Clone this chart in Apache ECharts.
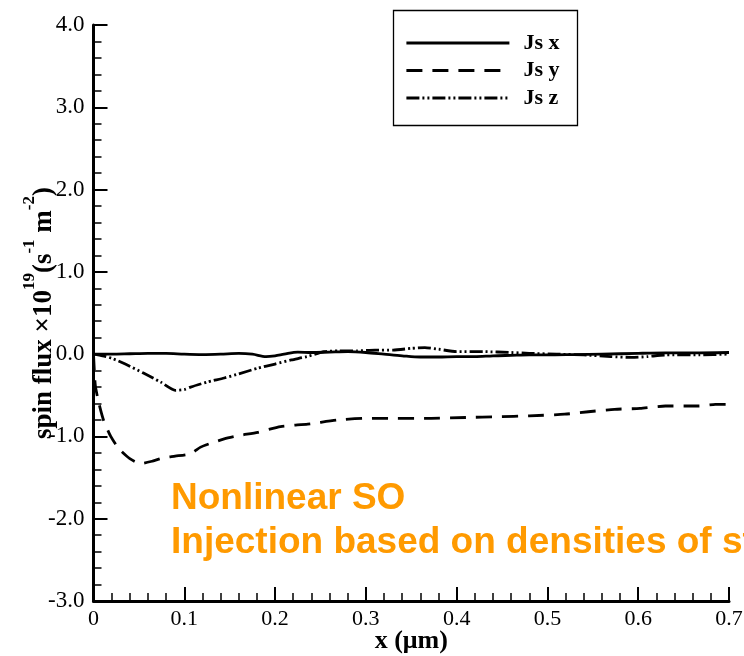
<!DOCTYPE html>
<html>
<head>
<meta charset="utf-8">
<script src="https://cdn.jsdelivr.net/npm/echarts@6/dist/echarts.min.js"></script>
<style>
  html, body { margin: 0; padding: 0; background: #fff; }
  #chart { width: 744px; height: 656px; }
</style>
</head>
<body>
<div id="chart"></div>
<script>
// Spin flux components along x (units of 1e19 s^-1 m^-2)
const xJsx = [0, 0.02, 0.04, 0.06, 0.08, 0.1, 0.12, 0.14, 0.16, 0.175, 0.19, 0.2, 0.21, 0.225, 0.24, 0.26, 0.28, 0.3, 0.32, 0.34, 0.36, 0.38, 0.4, 0.42, 0.44, 0.46, 0.48, 0.5, 0.53, 0.56, 0.6, 0.63, 0.66, 0.7];
const yJsx = [0, 0.0, 0.005, 0.01, 0.01, 0.0, -0.005, 0.0, 0.01, 0.0, -0.03, -0.02, 0.0, 0.025, 0.02, 0.025, 0.03, 0.02, 0.0, -0.02, -0.035, -0.035, -0.03, -0.03, -0.02, -0.015, -0.01, -0.01, -0.005, 0.0, 0.01, 0.015, 0.015, 0.02];

const xJsy = [0, 0.002, 0.006, 0.011, 0.019, 0.028, 0.04, 0.052, 0.065, 0.077, 0.09, 0.107, 0.118, 0.13, 0.144, 0.16, 0.181, 0.206, 0.236, 0.269, 0.3, 0.33, 0.372, 0.41, 0.446, 0.48, 0.519, 0.545, 0.574, 0.602, 0.63, 0.667, 0.685, 0.7];
const yJsy = [0, -0.38, -0.6, -0.8, -1.0, -1.15, -1.27, -1.33, -1.3, -1.26, -1.24, -1.21, -1.13, -1.08, -1.03, -0.99, -0.95, -0.88, -0.85, -0.8, -0.78, -0.78, -0.78, -0.77, -0.76, -0.75, -0.73, -0.7, -0.67, -0.66, -0.63, -0.63, -0.61, -0.61];

const xJsz = [0, 0.01, 0.02, 0.035, 0.055, 0.074, 0.09, 0.1, 0.107, 0.125, 0.144, 0.16, 0.181, 0.2, 0.218, 0.235, 0.254, 0.27, 0.29, 0.31, 0.33, 0.35, 0.365, 0.38, 0.4, 0.43, 0.46, 0.48, 0.51, 0.54, 0.57, 0.593, 0.61, 0.63, 0.667, 0.7];
const yJsz = [0, -0.02, -0.05, -0.12, -0.23, -0.34, -0.44, -0.43, -0.4, -0.34, -0.29, -0.24, -0.17, -0.12, -0.07, -0.03, 0.03, 0.04, 0.04, 0.05, 0.05, 0.07, 0.08, 0.06, 0.03, 0.03, 0.02, 0.01, 0.0, -0.01, -0.03, -0.04, -0.03, -0.01, -0.01, 0.0];

const seriesNames = ['Js x', 'Js y', 'Js z'];
const noteLines = ['Nonlinear SO', 'Injection based on densities of states'];

const serif = '"Liberation Serif", "Times New Roman", serif';
const sans = '"Liberation Sans", Arial, sans-serif';

const zip = (xs, ys) => xs.map((x, i) => [x, ys[i]]);

const chart = echarts.init(document.getElementById('chart'), null, { renderer: 'canvas' });

const lineBase = { color: '#000', width: 2.8, cap: 'butt', join: 'round' };

chart.setOption({
  animation: false,
  backgroundColor: '#fff',
  grid: { left: 93.5, right: 15, top: 25, bottom: 55, containLabel: false, outerBoundsMode: 'none' },
  xAxis: {
    type: 'value', min: 0, max: 0.7, interval: 0.1,
    name: 'x (\u03bcm)', nameLocation: 'middle', nameGap: 40, nameMoveOverlap: false,
    nameTextStyle: { fontFamily: serif, fontWeight: 'bold', fontSize: 26, color: '#000', verticalAlign: 'middle' },
    axisLine: { show: true, onZero: false, lineStyle: { color: '#000', width: 3 } },
    axisTick: { show: true, inside: true, length: 14, lineStyle: { color: '#000', width: 2 } },
    minorTick: { show: true, splitNumber: 5, length: 8, lineStyle: { color: '#000', width: 1.5 } },
    splitLine: { show: false },
    axisLabel: {
      fontFamily: serif, fontSize: 22, color: '#000', margin: 7,
      formatter: v => (v === 0 ? '0' : v.toFixed(1))
    }
  },
  yAxis: {
    type: 'value', min: -3, max: 4, interval: 1,
    name: '{b|spin flux \u00d710}{s|19}{b|(s}{s|-1}{b| m}{s|-2}{b|)}',
    nameLocation: 'middle', nameRotate: 90, nameGap: 54, nameMoveOverlap: false,
    nameTextStyle: {
      color: '#000', verticalAlign: 'middle',
      rich: {
        b: { fontFamily: serif, fontWeight: 'bold', fontSize: 27, color: '#000', lineHeight: 36, verticalAlign: 'bottom' },
        s: { fontFamily: serif, fontWeight: 'bold', fontSize: 17, color: '#000', lineHeight: 17, verticalAlign: 'top' }
      }
    },
    axisLine: { show: true, onZero: false, lineStyle: { color: '#000', width: 3 } },
    axisTick: { show: true, inside: true, length: 14, lineStyle: { color: '#000', width: 2 } },
    minorTick: { show: true, splitNumber: 5, length: 8, lineStyle: { color: '#000', width: 1.5 } },
    splitLine: { show: false },
    axisLabel: {
      fontFamily: serif, fontSize: 23, color: '#000', margin: 9,
      formatter: v => v.toFixed(1)
    }
  },
  legend: {
    orient: 'vertical', left: 405, top: 32, padding: 0,
    itemWidth: 103, itemHeight: 14, itemGap: 5.5,
    itemStyle: { color: 'rgba(0,0,0,0)', borderWidth: 0, opacity: 0 },
    lineStyle: { width: 2.8 },
    textStyle: { fontFamily: serif, fontWeight: 'bold', fontSize: 22, lineHeight: 22, color: '#000', padding: [0, 0, 0, 9] },
    data: seriesNames
  },
  graphic: [
    {
      type: 'rect', left: 391, top: 8, z: 0,
      shape: { width: 184, height: 115 },
      style: { fill: 'none', stroke: '#000', lineWidth: 1.3 }
    },
    {
      type: 'text', x: 171, y: 499,
      style: { text: noteLines[0], fontFamily: sans, fontWeight: 'bold', fontSize: 37, fill: '#ff9a00', verticalAlign: 'middle' }
    },
    {
      type: 'text', x: 171, y: 543,
      style: { text: noteLines[1], fontFamily: sans, fontWeight: 'bold', fontSize: 37, fill: '#ff9a00', verticalAlign: 'middle' }
    }
  ],
  series: [
    {
      name: seriesNames[0], type: 'line', data: zip(xJsx, yJsx), symbol: 'none', smooth: 0.3,
      lineStyle: Object.assign({}, lineBase, { type: 'solid' }), color: '#000'
    },
    {
      name: seriesNames[1], type: 'line', data: zip(xJsy, yJsy), symbol: 'none', smooth: 0.2,
      lineStyle: Object.assign({}, lineBase, { type: [16, 10] }), color: '#000'
    },
    {
      name: seriesNames[2], type: 'line', data: zip(xJsz, yJsz), symbol: 'none', smooth: 0.2,
      lineStyle: Object.assign({}, lineBase, { type: [13, 3, 2, 3, 2, 3] }), color: '#000'
    }
  ]
});
</script>
</body>
</html>
